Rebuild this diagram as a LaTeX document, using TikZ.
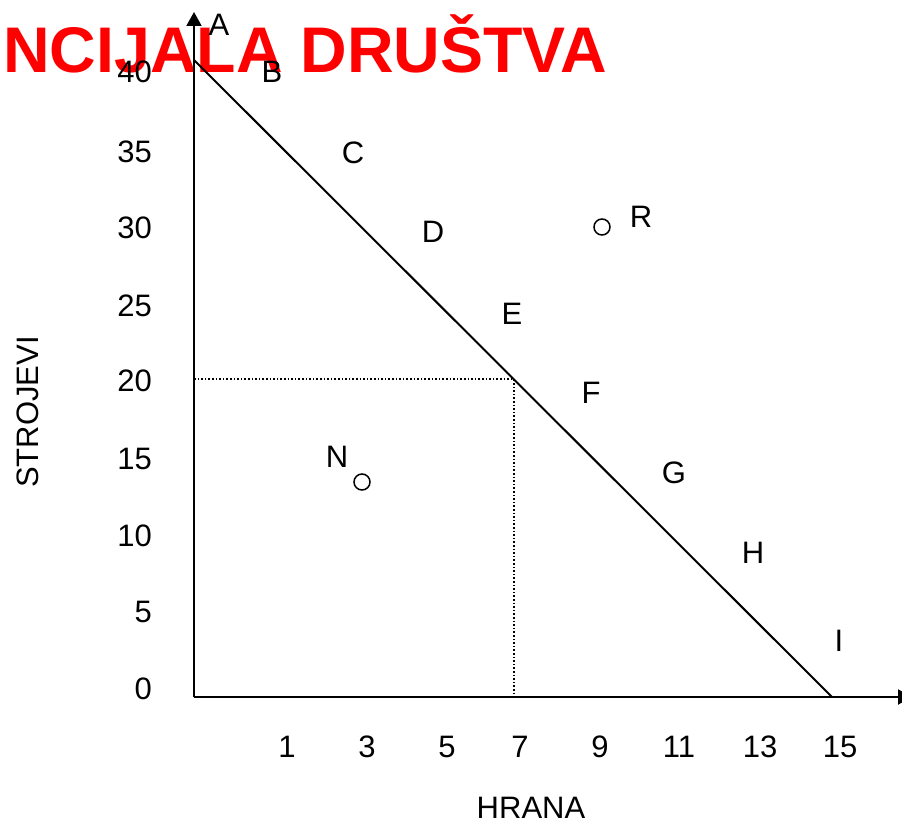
\documentclass[tikz,border=0pt]{standalone}
\usepackage{fontspec}
\setmainfont{Liberation Sans}
\usetikzlibrary{arrows.meta}
\begin{document}
\begin{tikzpicture}[x=1pt,y=-1pt,
  lbl/.style={font=\fontsize{31}{31}\selectfont, inner sep=0pt, anchor=base},
  ytick/.style={font=\fontsize{31}{31}\selectfont, inner sep=0pt, anchor=base east},
  axis/.style={line width=2pt, -{Triangle[length=14pt,width=15pt]}},
  budget/.style={line width=2pt},
  guide/.style={line width=1.6pt, dotted},
  pt/.style={circle, draw, line width=1.5pt, minimum size=16pt, inner sep=0pt}]
\useasboundingbox (0,0) rectangle (902,821);
\node[font=\bfseries\fontsize{64.5}{64.5}\selectfont, text=red, inner sep=0pt, anchor=base west] (title) at (3,73) {NCIJALA DRUŠTVA};
\coordinate (O) at (194,697);
\coordinate (ytop) at (194,12);
\coordinate (xend) at (912,697);
\coordinate (P40) at (194,60);
\coordinate (P0) at (832,697);
\coordinate (Y20) at (194,379);
\coordinate (E7) at (514,379);
\coordinate (X7) at (514,697);
\draw[axis] (O) -- (ytop);
\draw[axis] (O) -- (xend);
\draw[budget] (P40) -- (P0);
\draw[guide] (Y20) -- (E7) -- (X7);
\node[pt] (N) at (362,482) {};
\node[pt] (R) at (602,227) {};
\node[lbl] (lN) at (337,467) {N};
\node[lbl] (lR) at (641,228) {R};
\node[lbl] (lA) at (219,36) {A};
\node[lbl] (lB) at (272,83) {B};
\node[lbl] (lC) at (353,164) {C};
\node[lbl] (lD) at (433,243) {D};
\node[lbl] (lE) at (512,324) {E};
\node[lbl] (lF) at (591,403) {F};
\node[lbl] (lG) at (674,483) {G};
\node[lbl] (lH) at (753,563) {H};
\node[lbl] (lI) at (839,651) {I};
\node[ytick] (y40) at (152,83) {40};
\node[ytick] (y35) at (152,163) {35};
\node[ytick] (y30) at (152,239) {30};
\node[ytick] (y25) at (152,316) {25};
\node[ytick] (y20) at (152,391) {20};
\node[ytick] (y15) at (152,469) {15};
\node[ytick] (y10) at (152,546) {10};
\node[ytick] (y5) at (152,622) {5};
\node[ytick] (y0) at (152,699) {0};
\node[lbl] (x1) at (287,757) {1};
\node[lbl] (x3) at (367,757) {3};
\node[lbl] (x5) at (447,757) {5};
\node[lbl] (x7) at (520,757) {7};
\node[lbl] (x9) at (600,757) {9};
\node[lbl] (x11) at (679,757) {11};
\node[lbl] (x13) at (760,757) {13};
\node[lbl] (x15) at (840,757) {15};
\node[lbl] (hrana) at (531,818) {HRANA};
\node[font=\fontsize{31}{31}\selectfont, inner sep=0pt, rotate=90, anchor=base] (stroj) at (38,412) {STROJEVI};
\end{tikzpicture}
\end{document}
